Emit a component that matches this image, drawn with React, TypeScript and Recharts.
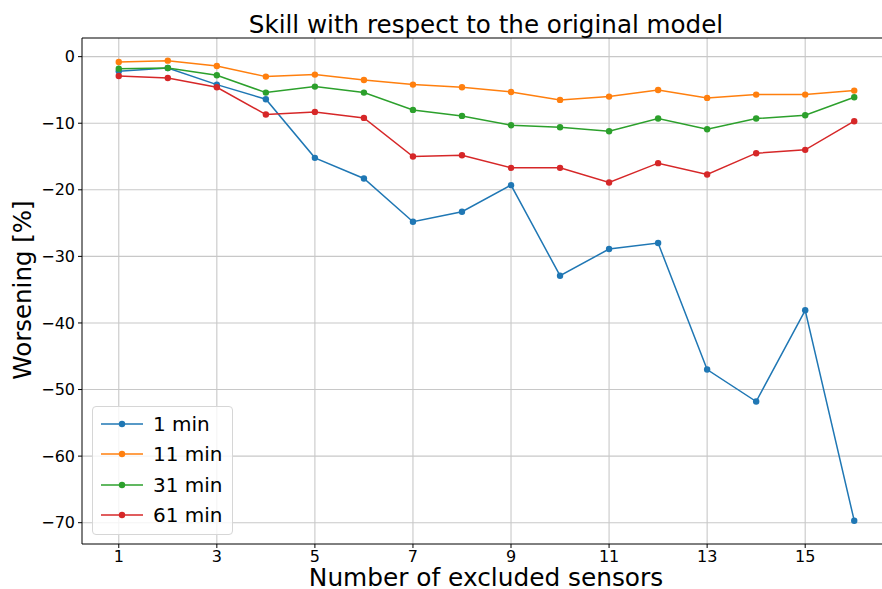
import React from "react";
import {
  CartesianGrid,
  Line,
  LineChart,
  ReferenceLine,
  XAxis,
  YAxis,
} from "recharts";

const sensors = [1, 2, 3, 4, 5, 6, 7, 8, 9, 10, 11, 12, 13, 14, 15, 16];
const oneMin = [-2.2, -1.7, -4.2, -6.4, -15.2, -18.3, -24.8, -23.3, -19.3, -32.9, -28.9, -28.0, -47.0, -51.8, -38.1, -69.7];
const elevenMin = [-0.8, -0.6, -1.4, -3.0, -2.7, -3.5, -4.2, -4.6, -5.3, -6.5, -6.0, -5.0, -6.2, -5.7, -5.7, -5.1];
const thirtyOneMin = [-1.8, -1.7, -2.8, -5.4, -4.5, -5.4, -8.0, -8.9, -10.3, -10.6, -11.2, -9.3, -10.9, -9.3, -8.8, -6.1];
const sixtyOneMin = [-2.9, -3.2, -4.6, -8.7, -8.3, -9.2, -15.0, -14.8, -16.7, -16.7, -18.9, -16.0, -17.7, -14.5, -14.0, -9.7];

const xTicks = [1, 3, 5, 7, 9, 11, 13, 15];
const yTicks = [0, -10, -20, -30, -40, -50, -60, -70];

const SERIES = [
  { key: "m1", name: "1 min", color: "#1f77b4", values: oneMin },
  { key: "m11", name: "11 min", color: "#ff7f0e", values: elevenMin },
  { key: "m31", name: "31 min", color: "#2ca02c", values: thirtyOneMin },
  { key: "m61", name: "61 min", color: "#d62728", values: sixtyOneMin },
];

const rows = sensors.map((n, i) => {
  const row: Record<string, number> = { n };
  SERIES.forEach((s) => (row[s.key] = s.values[i]));
  return row;
});

const FONT = "'DejaVu Sans', sans-serif";
const Y_TOP = 2.8;

function minus(v: number) {
  return v < 0 ? `\u2212${Math.abs(v)}` : String(v);
}

function LegendBox() {
  return (
    <div
      style={{
        position: "absolute",
        left: 92,
        top: 406,
        width: 139,
        height: 127,
        background: "rgba(255,255,255,0.8)",
        border: "1px solid #d6d6d6",
        borderRadius: 4,
        fontFamily: FONT,
        fontSize: 20,
        color: "#000",
      }}
    >
      {SERIES.map((s, i) => (
        <div
          key={s.key}
          style={{
            position: "absolute",
            left: 0,
            top: 2 + i * 30.3,
            height: 30,
            display: "flex",
            alignItems: "center",
          }}
        >
          <svg width={60} height={30} style={{ display: "block" }}>
            <line x1={8} x2={50} y1={15} y2={15} stroke={s.color} strokeWidth={1.5} />
            <circle cx={29} cy={15} r={3.2} fill={s.color} />
          </svg>
          <span style={{ whiteSpace: "nowrap" }}>{s.name}</span>
        </div>
      ))}
    </div>
  );
}

export default function App() {
  return (
    <div
      style={{
        position: "fixed",
        left: 0,
        top: 0,
        width: 882,
        height: 589,
        overflow: "hidden",
        background: "#fff",
      }}
    >
      <LineChart
        width={891}
        height={589}
        data={rows}
        margin={{ top: 38, right: 0, bottom: 0, left: 0 }}
        style={{ fontFamily: FONT }}
      >
        <CartesianGrid stroke="#c8c8c8" strokeWidth={1.1} verticalValues={xTicks} horizontalValues={yTicks} />
        <XAxis
          dataKey="n"
          type="number"
          domain={[0.25, 16.75]}
          ticks={xTicks}
          allowDataOverflow
          height={45}
          tickSize={4}
          tickMargin={3}
          tick={{ fill: "#000", fontSize: 16 }}
          axisLine={{ stroke: "#000", strokeWidth: 1 }}
          tickLine={{ stroke: "#000" }}
        />
        <YAxis
          type="number"
          domain={[-73.2, Y_TOP]}
          ticks={yTicks}
          allowDataOverflow
          width={82}
          tickSize={4}
          tickMargin={3}
          tickFormatter={minus}
          tick={{ fill: "#000", fontSize: 16 }}
          axisLine={{ stroke: "#000", strokeWidth: 1 }}
          tickLine={{ stroke: "#000" }}
        />
        {/* top spine */}
        <ReferenceLine y={Y_TOP} stroke="#000" strokeWidth={1.2} />
        {SERIES.map((s) => (
          <Line
            key={s.key}
            dataKey={s.key}
            name={s.name}
            stroke={s.color}
            strokeWidth={1.5}
            dot={{ r: 3.2, fill: s.color, stroke: s.color, strokeWidth: 0 }}
            activeDot={false}
            isAnimationActive={false}
          />
        ))}
      </LineChart>
      <svg
        width={882}
        height={589}
        style={{ position: "absolute", left: 0, top: 0, pointerEvents: "none" }}
        fontFamily={FONT}
      >
        <text x={486} y={33} textAnchor="middle" fontSize={24.6} fill="#000">
          Skill with respect to the original model
        </text>
        <text x={486} y={586} textAnchor="middle" fontSize={24.8} fill="#000">
          Number of excluded sensors
        </text>
        <text
          x={31}
          y={290}
          textAnchor="middle"
          fontSize={24.5}
          fill="#000"
          transform="rotate(-90 31 290)"
        >
          Worsening [%]
        </text>
      </svg>
      <LegendBox />
    </div>
  );
}
